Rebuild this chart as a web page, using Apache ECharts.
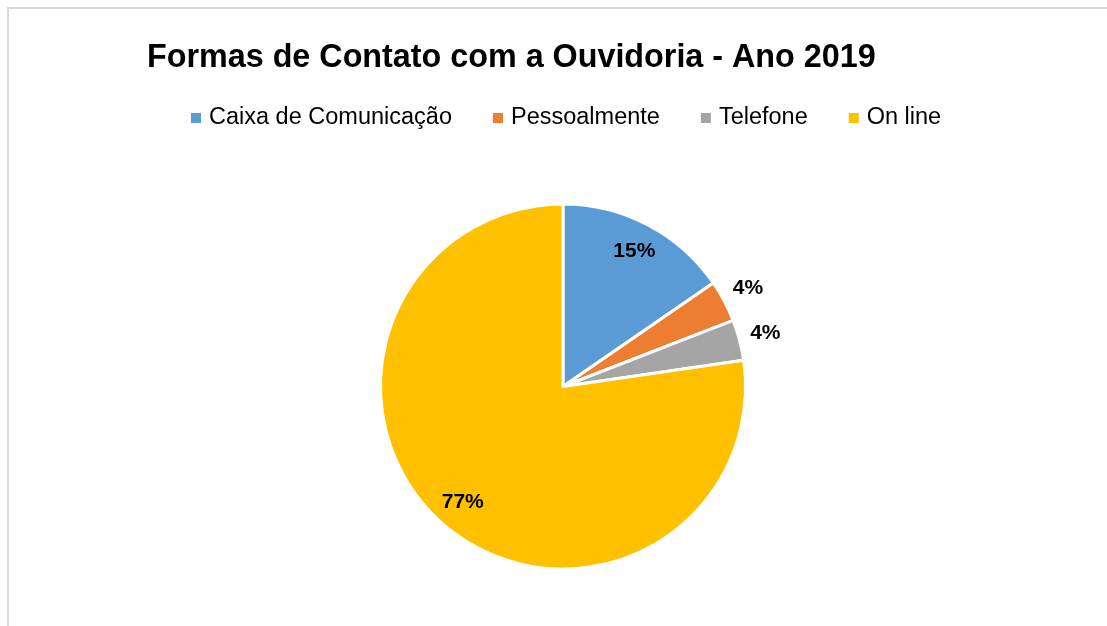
<!DOCTYPE html>
<html>
<head>
<meta charset="utf-8">
<script src="https://cdn.jsdelivr.net/npm/echarts@6/dist/echarts.min.js"></script>
<style>
html,body{margin:0;padding:0;background:#fff;}
#chart{width:1107px;height:626px;}
</style>
</head>
<body>
<div id="chart"></div>
<script>
const titleText = 'Formas de Contato com a Ouvidoria - Ano 2019';
const categories = ['Caixa de Comunicação', 'Pessoalmente', 'Telefone', 'On line'];
const values = [15.4, 3.7, 3.6, 77.3];
const colors = ['#5B9BD5', '#ED7D31', '#A5A5A5', '#FFC000'];
const insideLabelIdx = [0, 3];
const outsideLabelIdx = [1, 2];

const FONT = '"Liberation Sans", Arial, sans-serif';
const center = [563, 386.5];
const R = 182.5;

const chart = echarts.init(document.getElementById('chart'), null, {renderer: 'canvas'});

const mainData = categories.map((c, i) => ({name: c, value: values[i], itemStyle: {color: colors[i]}}));
const ghostData = categories.map((c, i) => ({name: c, value: values[i]}));

function labelFor(idxList) {
  return function (p) {
    return idxList.indexOf(p.dataIndex) >= 0 ? Math.round(p.percent) + '%' : '';
  };
}

const ghostBase = {
  type: 'pie',
  center: center,
  startAngle: 90,
  clockwise: true,
  silent: true,
  avoidLabelOverlap: false,
  animation: false,
  itemStyle: {color: 'rgba(0,0,0,0)', borderWidth: 0},
  emphasis: {disabled: true},
  labelLine: {show: false},
  data: ghostData
};

chart.setOption({
  backgroundColor: '#fff',
  animation: false,
  color: colors,
  graphic: [{
    type: 'rect',
    shape: {x: 8, y: 8, width: 1200, height: 700},
    style: {fill: 'none', stroke: '#d9d9d9', lineWidth: 2},
    silent: true
  }],
  title: {
    text: titleText,
    left: 147,
    top: 42,
    padding: 0,
    textStyle: {fontFamily: FONT, fontWeight: 'bold', fontSize: 32.3, color: '#000'}
  },
  legend: {
    left: 191,
    top: 106,
    padding: 0,
    icon: 'rect',
    itemWidth: 10,
    itemHeight: 10,
    itemGap: 41,
    selectedMode: false,
    itemStyle: {borderWidth: 0},
    textStyle: {fontFamily: FONT, fontSize: 23.5, color: '#000', padding: [0, 0, 0, 3]},
    data: categories.map((c, i) => ({name: c, itemStyle: {color: colors[i], borderWidth: 0}}))
  },
  series: [
    {
      type: 'pie',
      center: center,
      radius: [0, R],
      startAngle: 90,
      clockwise: true,
      avoidLabelOverlap: false,
      animation: false,
      itemStyle: {borderColor: '#fff', borderWidth: 3},
      emphasis: {disabled: true},
      label: {show: false},
      labelLine: {show: false},
      data: mainData
    },
    Object.assign({}, ghostBase, {
      radius: [118, R],
      label: {
        show: true, position: 'inside', formatter: labelFor(insideLabelIdx),
        fontFamily: FONT, fontWeight: 'bold', fontSize: 21, color: '#000'
      }
    }),
    Object.assign({}, ghostBase, {
      radius: [R, 230],
      label: {
        show: true, position: 'inside', formatter: labelFor(outsideLabelIdx),
        fontFamily: FONT, fontWeight: 'bold', fontSize: 21, color: '#000'
      }
    })
  ]
});
</script>
</body>
</html>
